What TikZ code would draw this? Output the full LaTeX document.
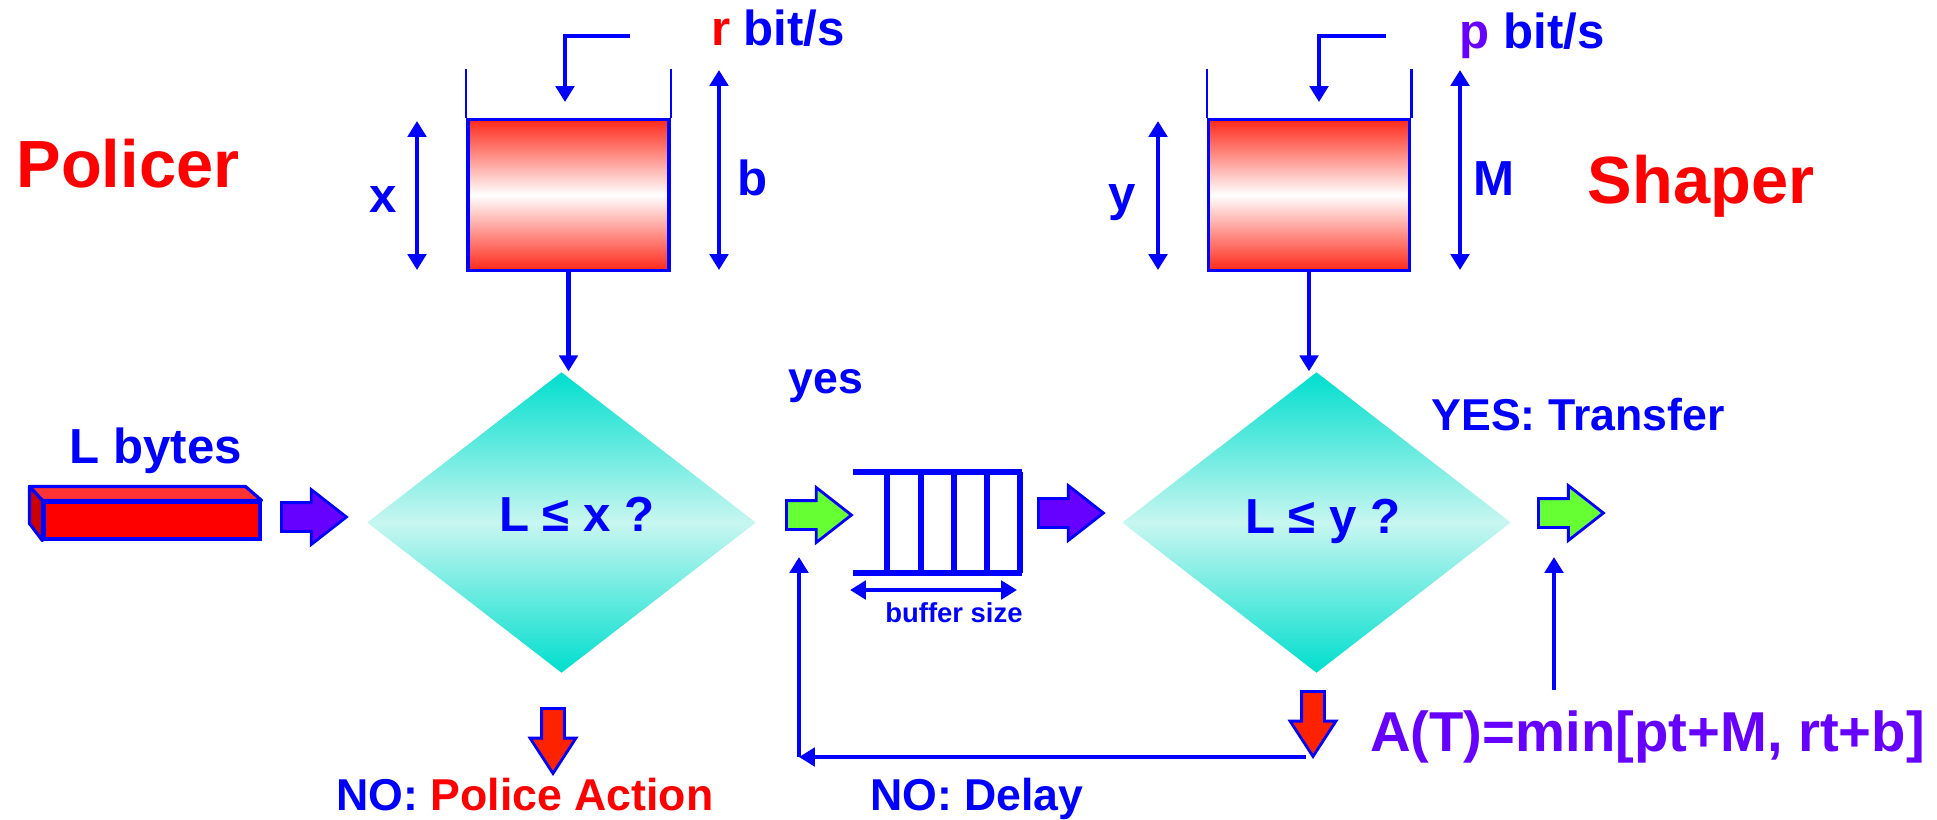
\documentclass[tikz,border=0pt]{standalone}
\usepackage{fontspec}
\setmainfont{Liberation Sans}
\usetikzlibrary{arrows.meta, positioning, shapes.geometric, shapes.arrows}
\definecolor{tbBlue}{RGB}{0,0,255}
\definecolor{tbRed}{RGB}{255,0,0}
\definecolor{tbPurple}{RGB}{102,0,255}
\definecolor{tbGreen}{RGB}{102,255,51}
\definecolor{tbOrange}{RGB}{255,34,0}
\definecolor{tbTeal}{RGB}{0,222,206}
\definecolor{tbPale}{RGB}{200,246,240}
\definecolor{tbFill}{RGB}{255,40,25}
\definecolor{tbTop}{RGB}{255,51,51}
\definecolor{tbSide}{RGB}{204,0,0}

\tikzset{
  txt/.style={font=\bfseries\fontsize{14}{16}\selectfont, text=tbBlue, inner sep=0, anchor=base},
  note/.style={txt, font=\bfseries\fontsize{12.7}{15}\selectfont},
  title/.style={txt, font=\bfseries\fontsize{19}{22}\selectfont, text=tbRed},
  flow/.style={draw=tbBlue, line width=1.4pt, -{Triangle[length=4.5pt,width=5.2pt]}},
  span/.style={flow, {Triangle[length=4.5pt,width=5.2pt]}-{Triangle[length=4.5pt,width=5.2pt]}},
  wall/.style={draw=tbBlue, line width=0.7pt},
  bucket/.style={draw=tbBlue, line width=1pt, minimum width=2.01cm, minimum height=1.51cm, inner sep=0,
    top color=tbFill, bottom color=tbFill, middle color=white},
  test/.style={diamond, minimum width=3.89cm, minimum height=3.01cm, inner sep=0,
    top color=tbTeal, bottom color=tbTeal, middle color=tbPale},
  fat/.style={single arrow, draw=tbBlue, line width=0.8pt, inner xsep=0, inner ysep=0.13cm, anchor=tail,
    minimum height=0.65cm, single arrow head extend=0.13cm, single arrow tip angle=76},
  drop/.style={fat, fill=tbOrange, shape border rotate=270, inner xsep=0.10cm, inner ysep=0,
    single arrow head extend=0.115cm, single arrow tip angle=66},
  qline/.style={draw=tbBlue, line width=1.7pt},
}

\begin{document}
\begin{tikzpicture}[x=1cm, y=-1cm]
  \useasboundingbox (0,0) rectangle (19.37,8.19);

  % Titles
  \node[title] (policer) at (1.28,1.87) {Policer};
  \node[title] (shaper) at (17.01,2.03) {Shaper};

  % Token bucket of the policer
  \node[bucket] (bk1) at (5.685,1.95) {};
  \draw[wall] (bk1.north west) -- ++(0,-0.49);
  \draw[wall] (bk1.north east) -- ++(0,-0.49);
  \coordinate (src1) at (6.30,0.36);
  \coordinate (fall1) at (5.65,1.02);
  \draw[flow] (src1) -| (fall1);
  \node[txt] (rate1) at (7.78,0.45) {{\color{tbRed}r} bit/s};
  \draw[span] (4.17,1.21) -- (4.17,2.70);
  \node[txt] (lvl1) at (3.83,2.12) {x};
  \draw[span] (7.19,0.70) -- (7.19,2.70);
  \node[txt] (size1) at (7.53,1.95) {b};

  % Token bucket of the shaper
  \node[bucket] (bk2) at (13.09,1.95) {};
  \draw[wall] (bk2.north west) -- ++(0,-0.49);
  \draw[wall] (bk2.north east) -- ++(0,-0.49);
  \coordinate (src2) at (13.86,0.36);
  \coordinate (fall2) at (13.19,1.02);
  \draw[flow] (src2) -| (fall2);
  \node[txt] (rate2) at (15.32,0.48) {{\color{tbPurple}p} bit/s};
  \draw[span] (11.58,1.21) -- (11.58,2.70);
  \node[txt] (lvl2) at (11.22,2.10) {y};
  \draw[span] (14.60,0.70) -- (14.60,2.70);
  \node[txt] (size2) at (14.94,1.95) {M};

  % Decisions
  \node[test] (d1) at (5.615,5.225) {};
  \node[txt] (q1) at (5.77,5.31) {L ≤ x ?};
  \node[test] (d2) at (13.165,5.225) {};
  \node[txt] (q2) at (13.23,5.33) {L ≤ y ?};
  \draw[flow] (bk1.south) -- (bk1.south |- d1.north);
  \draw[flow] (bk2.south) -- (bk2.south |- d2.north);

  % Packet
  \node[txt] (len) at (1.56,4.63) {L bytes};
  \node[draw=tbBlue, line width=0.9pt, fill=tbRed, minimum width=2.16cm, minimum height=0.37cm,
    inner sep=0] (pkt) at (1.52,5.205) {};
  \filldraw[draw=tbBlue, line width=0.9pt, fill=tbTop, line join=round]
    (pkt.north west) -- ++(-0.13,-0.14) -- ++(2.16,0) -- (pkt.north east) -- cycle;
  \filldraw[draw=tbBlue, line width=0.9pt, fill=tbSide, line join=round]
    (pkt.north west) -- ++(-0.13,-0.14) -- ++(0,0.37) -- (pkt.south west) -- cycle;

  % Block arrows along the path
  \node[fat, fill=tbPurple] (push1) at (2.80,5.17) {};
  \node[fat, fill=tbGreen] (pass1) at (7.85,5.15) {};
  \node[fat, fill=tbPurple] (push2) at (10.37,5.13) {};
  \node[fat, fill=tbGreen] (pass2) at (15.37,5.13) {};
  \node[drop] (drop1) at (5.53,7.07) {};
  \node[drop] (drop2) at (13.13,6.90) {};

  % Queue
  \coordinate (qin) at (8.53,4.715);
  \draw[qline] (qin) -- (10.22,4.715);
  \draw[qline] (8.53,5.73) -- (10.22,5.73);
  \foreach \x in {8.87,9.21,9.54,9.87,10.20}
    \draw[qline] (\x,4.715) -- (\x,5.73);
  \draw[span] (8.50,5.90) -- (10.17,5.90);
  \node[txt, font=\bfseries\fontsize{7.8}{9}\selectfont] (bufsz) at (9.54,6.22) {buffer size};

  % Delay loop
  \coordinate (back) at (13.06,7.57);
  \coordinate (turn) at (7.99,7.57);
  \coordinate (reentry) at (7.99,5.57);
  \draw[flow] (back) -- (turn);
  \draw[flow] (turn) -- (reentry);

  % Outcomes
  \node[note] (yes) at (8.26,3.93) {yes};
  \node[note] (yesT) at (15.78,4.30) {YES: Transfer};
  \node[note] (noP) at (5.25,8.10) {NO: {\color{tbRed}Police Action}};
  \node[note] (noD) at (9.77,8.10) {NO: Delay};

  % Arrival curve
  \node[txt, font=\bfseries\fontsize{16}{19}\selectfont, text=tbPurple] (curve) at (16.475,7.51)
    {A(T)=min[pt+M, rt+b]};
  \coordinate (cs) at (15.54,6.90);
  \coordinate (gate) at (15.54,5.57);
  \draw[flow] (cs) -- (gate);
\end{tikzpicture}
\end{document}
